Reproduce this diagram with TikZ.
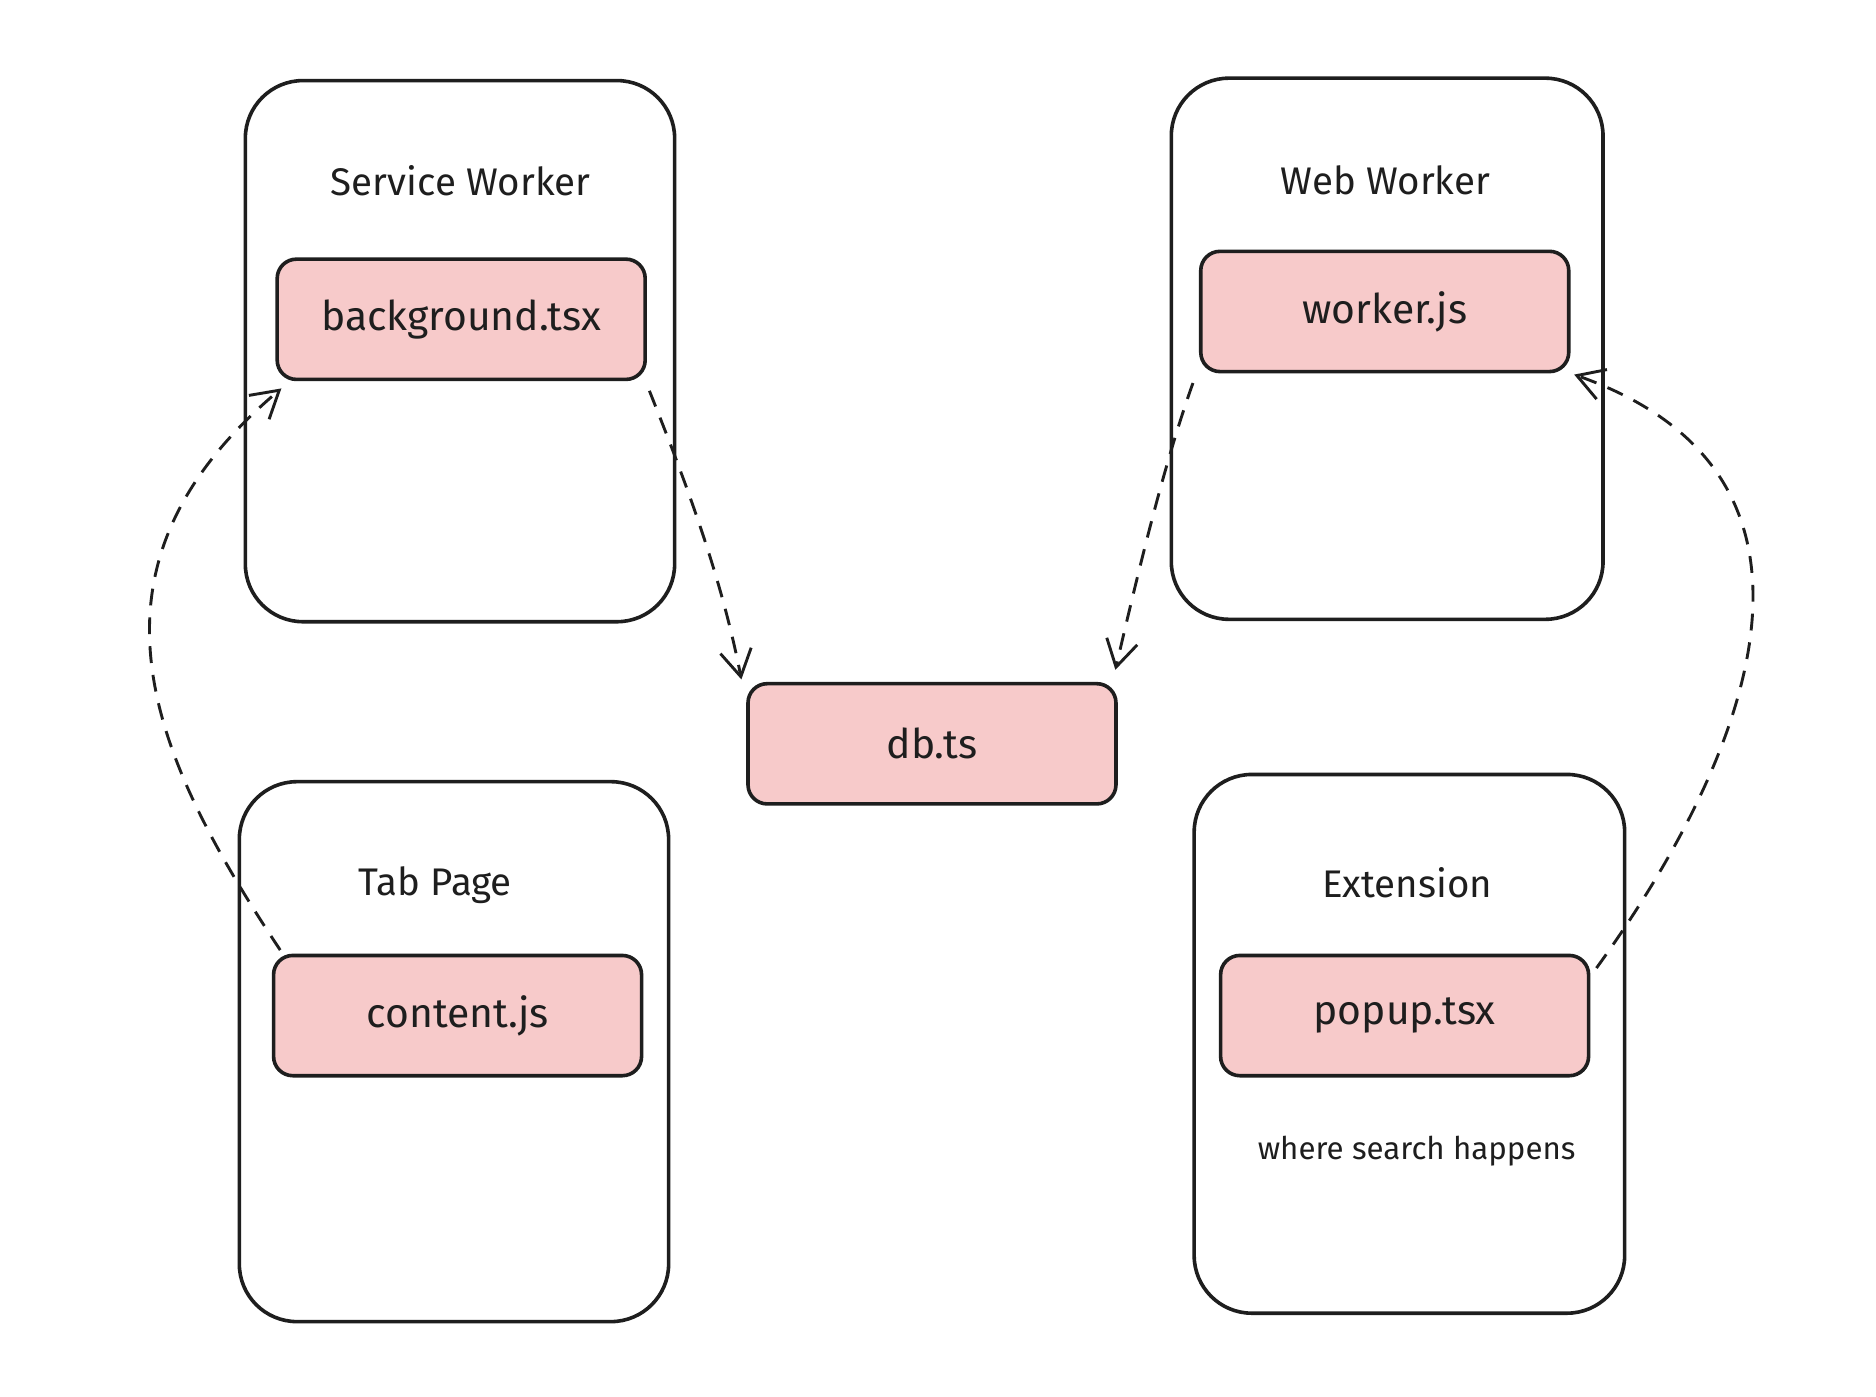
\documentclass[tikz,border=0pt]{standalone}
\usepackage{fontspec}
\setmainfont{Fira Sans}
\usetikzlibrary{arrows.meta}
\definecolor{pinkf}{HTML}{F7CACA}
\definecolor{ink}{HTML}{1E1E1E}
\begin{document}
\begin{tikzpicture}[x=1pt,y=-1pt,line width=3pt,
  outer/.style={draw=ink,rounded corners=48pt},
  file/.style={draw=ink,fill=pinkf,rounded corners=16pt,minimum width=306pt,minimum height=100pt,font=\fontsize{34}{40}\selectfont,text=ink},
  title/.style={font=\fontsize{32}{38}\selectfont,text=ink},
  conn/.style={draw=ink,line width=2.4pt,dash pattern=on 14pt off 10pt,-{Straight Barb[length=22pt,width=26pt,line width=2.4pt]}}]
\useasboundingbox (0,0) rectangle (1560,1161);
\fill[white] (0,0) rectangle (1560,1161);
% outer boxes
\draw[outer] (204,67) rectangle (561,517);
\draw[outer] (974,65) rectangle (1333,515);
\draw[outer] (199,650) rectangle (556,1099);
\draw[outer] (993,644) rectangle (1351,1092);
\node[title] (tsw) at (383,150) {Service Worker};
\node[title] (tww) at (1152,150) {Web Worker};
\node[title] (ttp) at (362,736) {Tab Page};
\node[title] (tex) at (1170,734) {Extension};
\node[font=\fontsize{26}{30}\selectfont,text=ink] (note) at (1178,957) {where search happens};
% files
\node[file] (bg) at (383.5,265.5) {background.tsx};
\node[file] (wk) at (1151.5,259) {worker.js};
\node[file] (ct) at (380.5,844.5) {content.js};
\node[file] (pp) at (1168,844.5) {popup.tsx};
\node[file] (db) at (775,618.5) {db.ts};
% connectors
\path (bg.south east) ++(2,8) coordinate (a1) (db.north west) ++(-4,-2) coordinate (a2);
\draw[conn] (a1) .. controls (570,400) and (600,480) .. (a2);
\path (wk.south west) ++(-5,8) coordinate (b1) (db.north east) ++(-2,-10) coordinate (b2);
\draw[conn] (b1) .. controls (970,380) and (950,460) .. (b2);
\path (ct.north west) ++(7,-3) coordinate (c1) (bg.south west) ++(5,6) coordinate (c2);
\draw[conn] (c1) .. controls (120,620) and (60,470) .. (c2);
\path (pp.north east) ++(5,12) coordinate (d1) (wk.south east) ++(3,1) coordinate (d2);
\draw[conn] (d1) .. controls (1440,650) and (1560,400) .. (d2);
\end{tikzpicture}
\end{document}
